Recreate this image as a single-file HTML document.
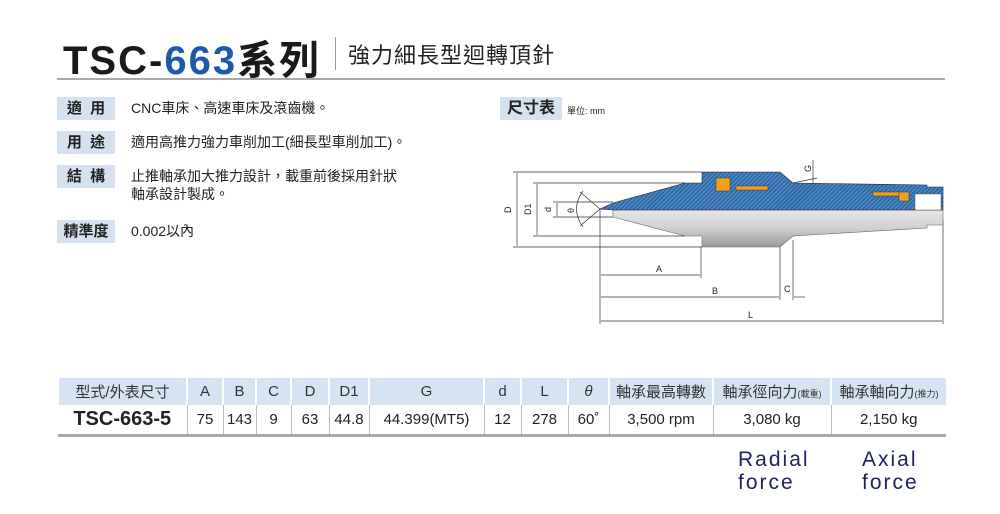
<!DOCTYPE html>
<html><head><meta charset="utf-8"><style>
body{margin:0;width:1000px;height:514px;background:#fff;position:relative;overflow:hidden;font-family:"Liberation Sans","Noto Sans CJK TC",sans-serif;color:#222}
.a{position:absolute;white-space:nowrap}
.lb{position:absolute;background:#d5e1ef;font-size:15px;height:23px;line-height:23px;text-align:center;color:#222;font-weight:bold}
.tx{position:absolute;font-size:14px;line-height:18px;color:#222}
table{position:absolute;left:57px;top:378px;border-collapse:collapse;font-size:15px;table-layout:fixed;width:888px}
td{text-align:center;padding:0;border-left:1px solid #bbb;overflow:hidden;white-space:nowrap}
tr.h td{background:#d6e3f2;height:27px;border-left:2px solid #fff;color:#333}
tr.v td{height:29px;border-bottom:3px solid #aaa}
td:first-child{border-left:none}
.rf{position:absolute;font-size:21px;letter-spacing:2px;color:#1c2360;line-height:23px}
</style></head><body>
<div class="a" style="left:63px;top:28px;font-size:40px;font-weight:bold;letter-spacing:2px;color:#1a1a1a">TSC-<span style="color:#1d5aa8">663</span>系列</div>
<div class="a" style="left:335px;top:37px;width:1px;height:33px;background:#999"></div>
<div class="a" style="left:348px;top:38px;font-size:22px;letter-spacing:1px;color:#222">強力細長型迴轉頂針</div>
<div class="a" style="left:57px;top:78px;width:888px;height:2px;background:#aaa"></div>

<div class="lb" style="left:57px;top:97px;width:58px">適&nbsp;&nbsp;用</div>
<div class="tx" style="left:131px;top:99px">CNC車床、高速車床及滾齒機。</div>
<div class="lb" style="left:57px;top:131px;width:58px">用&nbsp;&nbsp;途</div>
<div class="tx" style="left:131px;top:133px">適用高推力強力車削加工(細長型車削加工)。</div>
<div class="lb" style="left:57px;top:165px;width:58px">結&nbsp;&nbsp;構</div>
<div class="tx" style="left:131px;top:167px">止推軸承加大推力設計，載重前後採用針狀<br>軸承設計製成。</div>
<div class="lb" style="left:57px;top:220px;width:58px">精準度</div>
<div class="tx" style="left:131px;top:222px">0.002以內</div>
<div class="lb" style="left:500px;top:97px;width:62px;font-size:16px">尺寸表</div>
<div class="a" style="left:567px;top:104px;font-size:9px">單位: mm</div>

<svg class="a" style="left:0;top:0" width="1000" height="340">
<defs><pattern id="h" width="3" height="3" patternUnits="userSpaceOnUse" patternTransform="rotate(45)"><rect width="3" height="3" fill="#2e6aa6"/><rect width="1" height="3" fill="#5a90c8"/></pattern>
<linearGradient id="s" x1="0" y1="0" x2="0" y2="1"><stop offset="0" stop-color="#e8e8e8"/><stop offset="0.5" stop-color="#cfcfcf"/><stop offset="1" stop-color="#9a9a9a"/></linearGradient></defs>
<g stroke="#333" stroke-width="0.7" fill="none">
<line x1="513" y1="172" x2="702" y2="172"/><line x1="513" y1="247" x2="702" y2="247"/>
<line x1="533" y1="183" x2="685" y2="183"/><line x1="533" y1="236" x2="685" y2="236"/>
<line x1="553" y1="202" x2="613" y2="202"/><line x1="553" y1="217" x2="613" y2="217"/>
<line x1="517" y1="173" x2="517" y2="246"/><line x1="537" y1="184" x2="537" y2="235"/><line x1="557" y1="203" x2="557" y2="216"/>
<line x1="600" y1="209" x2="580" y2="192"/><line x1="600" y1="209" x2="580" y2="226"/>
<path d="M583 191 Q570 209 583 227"/>
<line x1="600" y1="209" x2="600" y2="324"/><line x1="701" y1="247" x2="701" y2="278"/>
<line x1="780" y1="247" x2="780" y2="300"/><line x1="793" y1="240" x2="793" y2="300"/><line x1="943" y1="220" x2="943" y2="324"/>
<line x1="601" y1="275" x2="700" y2="275"/><line x1="601" y1="297" x2="779" y2="297"/><line x1="794" y1="297" x2="805" y2="297"/>
<line x1="601" y1="321" x2="942" y2="321"/>
<line x1="813" y1="160" x2="813" y2="232"/><line x1="793" y1="183" x2="817" y2="178"/><line x1="793" y1="236" x2="817" y2="231"/>
</g>
<path d="M613 217 L685 236 L702 236 L702 247 L780 247 L793 236 L927 228 L927 225 L943 225 L943 210 L613 210Z" fill="url(#s)" stroke="#666" stroke-width="0.6"/>
<path d="M600 209 L613 203 L685 183 L702 183 L702 172 L780 172 L793 183 L927 185 L927 187 L943 187 L943 210 L613 210Z" fill="url(#h)" stroke="#223" stroke-width="0.6"/>
<rect x="716" y="178" width="14" height="13" fill="#f0a020" stroke="#333" stroke-width="0.5"/>
<rect x="736" y="186" width="32" height="4" fill="#f0a020" stroke="#333" stroke-width="0.5"/>
<rect x="873" y="192" width="28" height="4" fill="#f0a020" stroke="#333" stroke-width="0.5"/>
<rect x="899" y="192" width="10" height="9" fill="#f0a020" stroke="#333" stroke-width="0.5"/>
<rect x="915" y="194" width="26" height="16" fill="#fff" stroke="#555" stroke-width="0.5"/>
<g font-size="9" fill="#222" font-family="Liberation Sans">
<text x="656" y="272">A</text><text x="712" y="294">B</text><text x="784" y="292">C</text><text x="748" y="318">L</text>
<text transform="translate(511,213) rotate(-90)">D</text><text transform="translate(531,215) rotate(-90)">D1</text>
<text transform="translate(551,212) rotate(-90)">d</text><text transform="translate(574,213) rotate(-90)">θ</text>
<text transform="translate(811,172) rotate(-90)">G</text></g>
</svg>

<table>
<colgroup><col style="width:129px"><col style="width:36px"><col style="width:33px"><col style="width:35px"><col style="width:38px"><col style="width:40px"><col style="width:115px"><col style="width:37px"><col style="width:47px"><col style="width:41px"><col style="width:104px"><col style="width:118px"><col style="width:115px"></colgroup>
<tr class="h"><td>型式/外表尺寸</td><td>A</td><td>B</td><td>C</td><td>D</td><td>D1</td><td>G</td><td>d</td><td>L</td><td><i>θ</i></td><td>軸承最高轉數</td><td>軸承徑向力<span style="font-size:9px">(載重)</span></td><td>軸承軸向力<span style="font-size:9px">(推力)</span></td></tr>
<tr class="v"><td style="font-weight:bold;font-size:20px">TSC-663-5</td><td>75</td><td>143</td><td>9</td><td>63</td><td>44.8</td><td>44.399(MT5)</td><td>12</td><td>278</td><td>60˚</td><td>3,500 rpm</td><td>3,080 kg</td><td>2,150 kg</td></tr>
</table>
<div class="rf" style="left:738px;top:448px">Radial<br>force</div>
<div class="rf" style="left:862px;top:448px">Axial<br>force</div>
</body></html>
